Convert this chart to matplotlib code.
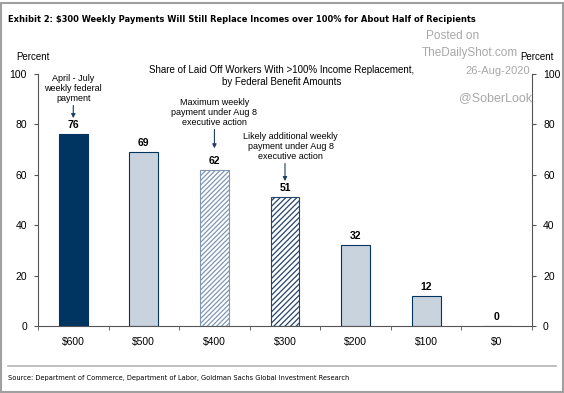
import matplotlib
matplotlib.use("Agg")
import matplotlib.pyplot as plt
from matplotlib.patches import Rectangle
from matplotlib.lines import Line2D
import numpy as np

# data
categories = ["$600", "$500", "$400", "$300", "$200", "$100", "$0"]
share = [76, 69, 62, 51, 32, 12, 0]
y_ticks = [0, 20, 40, 60, 80, 100]

navy = "#003461"
light = "#c9d3de"

plt.rcParams["font.family"] = ["Liberation Sans", "DejaVu Sans"]
plt.rcParams["hatch.linewidth"] = 0.9

fig = plt.figure(figsize=(5.64, 3.93), dpi=100)
ax = fig.add_axes([38 / 564, 1 - 326 / 393, 494 / 564, 252 / 393])

x = np.arange(len(categories))
faces = [navy, light, "white", "white", light, light, light]
edges = [navy, navy, "#7f96b5", "#25446c", navy, navy, navy]
hatches = [None, None, "///////", "//////", None, None, None]
for xi, v, fc, ec, h in zip(x, share, faces, edges, hatches):
    ax.bar(xi, v, width=0.41, color=fc, edgecolor=ec, hatch=h, linewidth=0.8, zorder=2)
    ax.annotate(str(v), (xi, v), xytext=(0, 3), textcoords="offset points",
                ha="center", va="bottom", fontsize=7.5, fontweight="bold")

ax.set_xlim(-0.5, len(categories) - 0.5)
ax.set_ylim(0, 100)
ax.set_xticks(x)
ax.set_xticklabels(categories, fontsize=7.5)
ax.set_xticks(np.arange(-0.5, len(categories)), minor=True)
ax.tick_params(axis="x", which="major", length=0, pad=8)
ax.tick_params(axis="x", which="minor", length=3, direction="out", color="#555555")
ax.set_yticks(y_ticks)
ax.tick_params(axis="y", length=3, labelsize=7.5, color="#555555", left=True, right=True,
               labelleft=True, labelright=True, pad=5)
ax.spines["top"].set_visible(False)
for s in ["left", "right", "bottom"]:
    ax.spines[s].set_color("#555555")
    ax.spines[s].set_linewidth(0.8)

# annotations
arrow = dict(arrowstyle="-|>", color="#1f3d66", lw=0.8, mutation_scale=6, shrinkA=0, shrinkB=0)
ax.annotate("", xy=(0, 82.5), xytext=(0, 87.5), arrowprops=arrow)
ax.text(0, 88.5, "April - July\nweekly federal\npayment", ha="center", va="bottom",
        fontsize=6.5, linespacing=1.15)
ax.annotate("", xy=(2, 70.5), xytext=(2, 78), arrowprops=arrow)
ax.text(2, 79, "Maximum weekly\npayment under Aug 8\nexecutive action", ha="center",
        va="bottom", fontsize=6.5, linespacing=1.15)
ax.annotate("", xy=(3, 57.5), xytext=(3, 64.5), arrowprops=arrow)
ax.text(3.08, 65.5, "Likely additional weekly\npayment under Aug 8\nexecutive action",
        ha="center", va="bottom", fontsize=6.5, linespacing=1.15)

fig.text(282 / 564, 1 - 76 / 393, "Share of Laid Off Workers With >100% Income Replacement,\nby Federal Benefit Amounts",
         ha="center", va="center", fontsize=7, linespacing=1.2)

fig.text(16 / 564, 1 - 57 / 393, "Percent", ha="left", va="center", fontsize=7)
fig.text(537 / 564, 1 - 57 / 393, "Percent", ha="center", va="center", fontsize=7)

# title and footer
fig.text(8 / 564, 1 - 19 / 393,
         "Exhibit 2: $300 Weekly Payments Will Still Replace Incomes over 100% for About Half of Recipients",
         ha="left", va="center", fontsize=6.7, fontweight="bold", family="DejaVu Sans",
         fontstretch="condensed")
fig.add_artist(Line2D([8 / 564, 556 / 564], [1 - 366 / 393] * 2, color="#b5b5b5", lw=1.2))
fig.text(8 / 564, 1 - 378 / 393,
         "Source: Department of Commerce, Department of Labor, Goldman Sachs Global Investment Research",
         ha="left", va="center", fontsize=5.3, family="DejaVu Sans", fontstretch="condensed")

# watermark
wm = "#a8a8a8"
fig.text(453 / 564, 1 - 36 / 393, "Posted on", ha="center", va="center", fontsize=8.5, color=wm)
fig.text(518 / 564, 1 - 53 / 393, "TheDailyShot.com", ha="right", va="center", fontsize=8.5, color=wm)
fig.text(530 / 564, 1 - 71 / 393, "26-Aug-2020", ha="right", va="center", fontsize=8, color=wm)
fig.text(496 / 564, 1 - 98 / 393, "@SoberLook", ha="center", va="center", fontsize=9, color=wm)

fig.add_artist(Rectangle((0.002, 0.002), 0.996, 0.99, transform=fig.transFigure,
                         fill=False, edgecolor="#a0a0a0", lw=1.5))

fig.savefig("out.png", dpi=100)
